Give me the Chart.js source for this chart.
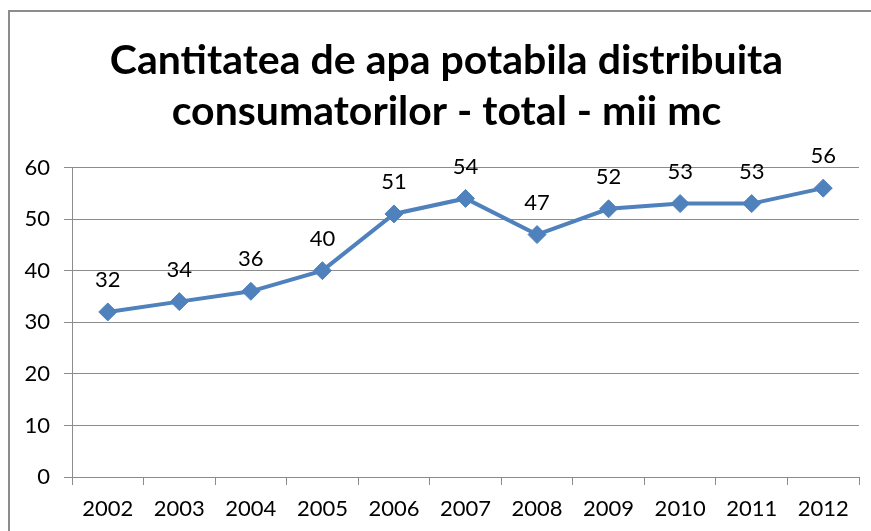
<!DOCTYPE html>
<html>
<head>
<meta charset="utf-8">
<script src="https://cdn.jsdelivr.net/npm/chart.js@4/dist/chart.umd.min.js"></script>
<style>
  html, body { margin: 0; padding: 0; background: #fff; }
  #cadru { position: absolute; left: 0; top: 0; width: 871px; height: 531px; }
  #chenar { position: absolute; left: 8px; top: 10px; width: 900px; height: 600px;
            border-left: 2px solid #8c8c8c; border-top: 2px solid #8c8c8c; }
</style>
</head>
<body>
<div id="cadru">
  <div id="chenar"></div>
  <canvas id="grafic" width="871" height="531"></canvas>
</div>
<script>
// Datele graficului
const ani = ['2002', '2003', '2004', '2005', '2006', '2007', '2008', '2009', '2010', '2011', '2012'];
const valori = [32, 34, 36, 40, 51, 54, 47, 52, 53, 53, 56];
const titlu = ['Cantitatea de apa potabila distribuita', 'consumatorilor - total - mii mc'];

const FONT = 'Lato, "Open Sans", sans-serif';
const GRI = '#8c8c8c';

// Etichetele cu valori deasupra punctelor
const eticheteValori = {
  id: 'eticheteValori',
  afterLayout(chart) {
    // titlul e centrat pe tot cadrul, nu doar pe zona graficului
    if (chart.titleBlock) chart.titleBlock.left = 34;
  },
  afterDatasetsDraw(chart) {
    const ctx = chart.ctx;
    const meta = chart.getDatasetMeta(0);
    ctx.save();
    ctx.font = '22px ' + FONT;
    ctx.fillStyle = '#000';
    ctx.textAlign = 'center';
    ctx.textBaseline = 'middle';
    meta.data.forEach((pt, i) => {
      ctx.fillText(String(valori[i]), pt.x, pt.y - 32);
    });
    ctx.restore();
  }
};

new Chart(document.getElementById('grafic'), {
  type: 'line',
  data: {
    labels: ani,
    datasets: [{
      data: valori,
      borderColor: '#4f81bd',
      backgroundColor: '#4f81bd',
      borderWidth: 4,
      pointStyle: 'rectRot',
      pointRadius: 9,
      pointHoverRadius: 9,
      pointBorderWidth: 1,
      tension: 0
    }]
  },
  options: {
    responsive: false,
    animation: false,
    layout: { padding: { left: 0, right: 12, top: 0, bottom: 0 } },
    plugins: {
      legend: { display: false },
      tooltip: { enabled: false },
      title: {
        display: true,
        text: titlu,
        color: '#000',
        font: { family: FONT, size: 41, weight: 'bold', lineHeight: 1.25 },
        padding: { top: 35, bottom: 30 }
      }
    },
    scales: {
      x: {
        offset: true,
        grid: { offset: true, drawOnChartArea: false, drawTicks: true, tickLength: 8, color: GRI },
        border: { color: GRI, width: 1 },
        ticks: { color: '#000', font: { family: FONT, size: 22 }, padding: 11, maxRotation: 0 },
        afterFit(scale) { scale.height = 54; }
      },
      y: {
        min: 0,
        max: 60,
        ticks: { stepSize: 10, color: '#000', font: { family: FONT, size: 22 }, padding: 14 },
        grid: { color: GRI, tickLength: 8 },
        border: { color: GRI, width: 1 },
        afterFit(scale) { scale.width = 72; }
      }
    }
  },
  plugins: [eticheteValori]
});
</script>
</body>
</html>
